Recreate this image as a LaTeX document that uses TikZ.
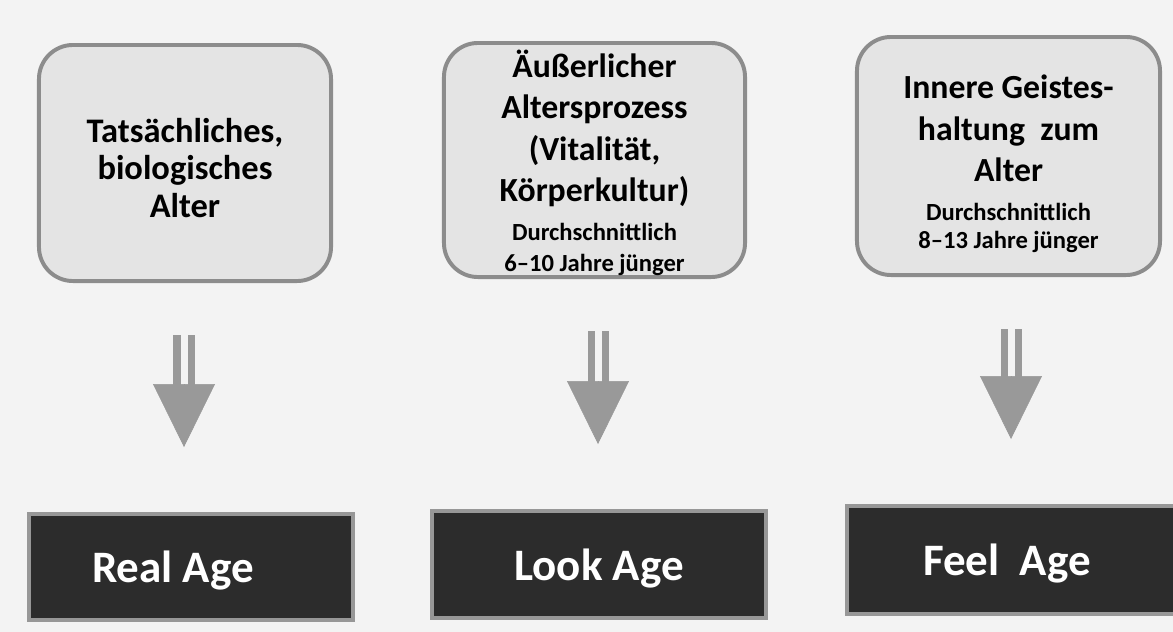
\documentclass[tikz,border=0pt]{standalone}
\usepackage{fontspec}
\setmainfont{Carlito}
\usetikzlibrary{arrows.meta,calc}

\definecolor{paper}{RGB}{243,243,243}
\definecolor{boxgray}{RGB}{228,228,228}
\definecolor{rimgray}{RGB}{140,140,140}
\definecolor{arrowgray}{RGB}{153,153,153}
\definecolor{labeldark}{RGB}{44,44,44}
\newcommand{\avg}{\fontsize{17.5}{22}\selectfont}

\begin{document}
\begin{tikzpicture}[
		x=0.025cm, y=-0.025cm,
		agebox/.style={
			draw=rimgray, line width=2.8pt, fill=boxgray, rounded corners=0.85cm,
			align=center, inner sep=0pt, font=\bfseries\fontsize{24}{29.5}\selectfont
		},
		labelbox/.style={
			draw=rimgray!90, line width=2.8pt, fill=labeldark, text=white,
			inner sep=0pt, text depth=0pt, font=\bfseries\fontsize{32}{36}\selectfont
		},
		shaft/.style={
			draw=arrowgray, line width=0.175cm, double=paper, double distance=0.175cm
		},
		head/.style={
			draw=arrowgray, fill=arrowgray, line width=0.4pt,
			-{Triangle[width=1.55cm,length=1.575cm]}
		}
		]
		
		\fill[paper] (0,0) rectangle (1173,632);
		\useasboundingbox (0,0) rectangle (1173,632);
		
		% obere Kaesten
		\node[agebox, minimum width=7.3cm, minimum height=5.9cm,
			font=\bfseries\fontsize{24.5}{26.5}\selectfont] (t1) at (185,163)
			{\rule{0pt}{24pt}Tatsächliches,\\biologisches\\Alter};
		\node[agebox, minimum width=7.525cm, minimum height=5.85cm] (t2) at (594.5,160)
			{\rule{0pt}{23pt}Äußerlicher\\Altersprozess\\(Vitalität,\\Körperkultur)\\[-2pt]
			\avg Durchschnittlich\\[-7.5pt]\avg 6--10 Jahre jünger};
		\node[agebox, minimum width=7.575cm, minimum height=5.95cm] (t3) at (1008.5,156)
			{\rule{0pt}{28pt}Innere Geistes-\\haltung\ \ zum\\Alter\\[-2pt]
			\avg Durchschnittlich\\[-9.5pt]\avg 8--13 Jahre jünger};
		
		% untere Kaesten
		\node[labelbox, minimum width=8.1cm, minimum height=2.65cm] (b1) at (191,567)
			{Real Age\hspace*{0.9cm}};
		\node[labelbox, minimum width=8.35cm, minimum height=2.675cm] (b2) at (599,564.5)
			{Look Age};
		\node[labelbox, minimum width=8.4cm, minimum height=2.7cm] (b3) at (1015,560)
			{Feel\ \ Age\hspace*{0.4cm}};
		
		% Doppelpfeile
		\foreach \i/\x in {1/184, 2/598, 3/1011} {
			\coordinate (x\i) at (\x,0);
			\draw[shaft] ($(t\i.south -| x\i)+(0,52)$) -- ($(b\i.north -| x\i)+(0,-127)$);
			\draw[head] ($(b\i.north -| x\i)+(0,-128)$) -- ($(b\i.north -| x\i)+(0,-65)$);
		}
	\end{tikzpicture}
\end{document}
